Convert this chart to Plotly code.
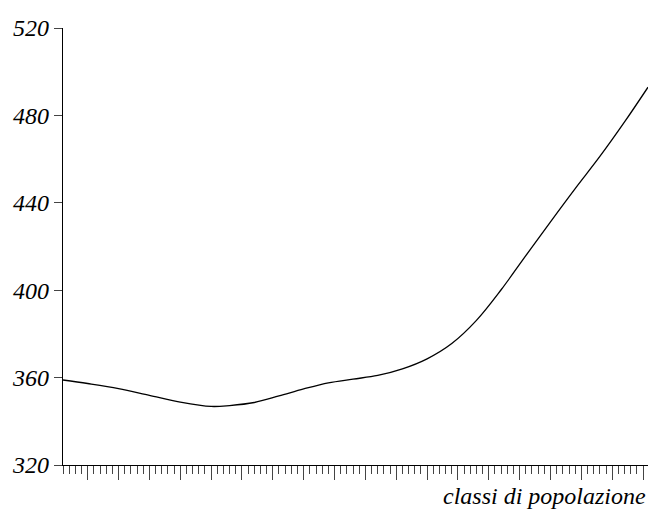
import plotly.graph_objects as go

# data
x_vals = [1, 5, 10, 15, 20, 25, 28, 32, 36, 40, 44, 48, 52, 56, 60, 64, 68, 72, 76, 80, 84, 88, 92, 95.8]
y_vals = [358.9, 357.3, 355.0, 351.9, 348.8, 346.8, 347.2, 348.6, 351.6, 354.8, 357.6, 359.3,
          361.0, 364.0, 368.6, 375.6, 386.2, 400.2, 415.8, 431.3, 446.5, 461.2, 477.0, 492.9]
y_ticks = [320, 360, 400, 440, 480, 520]
x_title = "classi di popolazione"

font_family = "Liberation Serif, Times New Roman, serif"

fig = go.Figure()
fig.add_trace(go.Scatter(
    x=x_vals, y=y_vals, mode="lines",
    line=dict(color="black", width=1.3, shape="spline", smoothing=1.0),
    hoverinfo="skip", showlegend=False,
))

fig.update_layout(
    width=649, height=510,
    margin=dict(l=63, r=1, t=28, b=45, autoexpand=False),
    paper_bgcolor="white", plot_bgcolor="white",
    showlegend=False,
)

fig.update_xaxes(
    range=[1, 95.8], automargin=False,
    showgrid=False, zeroline=False,
    showline=True, linecolor="black", linewidth=1.3,
    ticks="outside", tick0=0, dtick=5, ticklen=14, tickwidth=1, tickcolor="#444",
    showticklabels=False,
    minor=dict(dtick=1, ticks="outside", ticklen=8, tickwidth=1, tickcolor="#444"),
)

fig.update_yaxes(
    range=[320, 520], automargin=False,
    showgrid=False, zeroline=False,
    showline=True, linecolor="black", linewidth=1.3,
    ticks="outside", tickvals=y_ticks, ticktext=[str(v) for v in y_ticks],
    ticklen=8, tickwidth=1, tickcolor="#444",
    tickfont=dict(family=font_family, size=24, color="black", style="italic"),
    ticklabelstandoff=0,
)

fig.add_annotation(
    text=x_title, xref="paper", yref="paper", x=1.0, y=-0.07,
    xanchor="right", yanchor="middle", showarrow=False,
    font=dict(family=font_family, size=24, color="black", style="italic"),
)

fig.write_html(
    "out.html",
    config={"displayModeBar": False},
    post_script="document.body.style.margin='0px';document.body.style.overflow='hidden';",
)
